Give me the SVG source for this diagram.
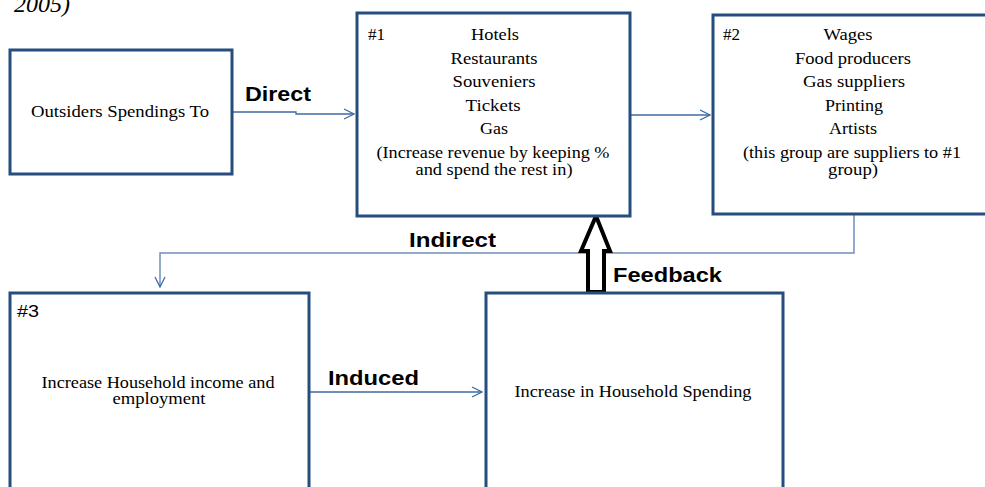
<svg xmlns="http://www.w3.org/2000/svg" width="985" height="487" viewBox="0 0 985 487">
<style>
.box{fill:#fff;stroke:#254D7E;stroke-width:3}
.t{font-family:"Liberation Serif","Times New Roman",serif;font-size:16px;fill:#000;text-anchor:middle}
.tl{font-family:"Liberation Serif","Times New Roman",serif;font-size:16px;fill:#000}
.lab{font-family:"Liberation Sans",Arial,sans-serif;font-size:20px;font-weight:bold;fill:#000}
.con{fill:none;stroke:#3F6AA3;stroke-width:1.3}
.con2{fill:none;stroke:#6F8FBD;stroke-width:1.5}
</style>
<defs>
<marker id="ah" viewBox="0 0 12 12" refX="11" refY="6" markerWidth="12" markerHeight="12" markerUnits="userSpaceOnUse" orient="auto">
<path d="M1,1 L11,6 L1,11" fill="none" stroke="#3F6AA3" stroke-width="1.3"/>
</marker>
</defs>
<text x="70" y="12" font-family="Liberation Serif,serif" font-style="italic" font-size="24" text-anchor="end">2005)</text>

<g id="connectors">
<path class="con" d="M232,112 H296 V114 H354" marker-end="url(#ah)"/>
<path class="con" d="M631,115 H710" marker-end="url(#ah)"/>
<path class="con2" d="M854,214 V253 H160 V287" marker-end="url(#ah)"/>
<path class="con" d="M310,392 H482" marker-end="url(#ah)"/>
<polygon points="596,216 610,251 604,251 604,292 588,292 588,251 581,251" fill="#fff" stroke="#000" stroke-width="4" stroke-linejoin="miter"/>
<text class="lab" x="245" y="101" textLength="66" lengthAdjust="spacingAndGlyphs">Direct</text>
<text class="lab" x="409" y="247" textLength="87" lengthAdjust="spacingAndGlyphs">Indirect</text>
<text class="lab" x="328" y="385" textLength="91" lengthAdjust="spacingAndGlyphs">Induced</text>
<text class="lab" x="613" y="282" textLength="109" lengthAdjust="spacingAndGlyphs">Feedback</text>
</g>

<g id="outsiders">
<rect class="box" x="10" y="50" width="222" height="124"/>
<text class="t" x="120" y="117" textLength="178" lengthAdjust="spacingAndGlyphs">Outsiders Spendings  To</text>
</g>

<g id="group1">
<rect class="box" x="357" y="13" width="273" height="203"/>
<text class="tl" x="368" y="40" textLength="17" lengthAdjust="spacingAndGlyphs">#1</text>
<text class="t" x="495" y="40" textLength="48" lengthAdjust="spacingAndGlyphs">Hotels</text>
<text class="t" x="494" y="64" textLength="87" lengthAdjust="spacingAndGlyphs">Restaurants</text>
<text class="t" x="494" y="87" textLength="83" lengthAdjust="spacingAndGlyphs">Souveniers</text>
<text class="t" x="493" y="111" textLength="55" lengthAdjust="spacingAndGlyphs">Tickets</text>
<text class="t" x="494" y="134" textLength="28" lengthAdjust="spacingAndGlyphs">Gas</text>
<text class="t" x="493" y="158" textLength="233" lengthAdjust="spacingAndGlyphs">(Increase revenue by keeping %</text>
<text class="t" x="494" y="175" textLength="157" lengthAdjust="spacingAndGlyphs">and spend the rest in)</text>
</g>

<g id="group2">
<rect class="box" x="713" y="15" width="290" height="199"/>
<text class="tl" x="723" y="40" textLength="17" lengthAdjust="spacingAndGlyphs">#2</text>
<text class="t" x="848" y="40" textLength="49" lengthAdjust="spacingAndGlyphs">Wages</text>
<text class="t" x="853" y="64" textLength="116" lengthAdjust="spacingAndGlyphs">Food producers</text>
<text class="t" x="854" y="87" textLength="102" lengthAdjust="spacingAndGlyphs">Gas suppliers</text>
<text class="t" x="854" y="111" textLength="58" lengthAdjust="spacingAndGlyphs">Printing</text>
<text class="t" x="853" y="134" textLength="48" lengthAdjust="spacingAndGlyphs">Artists</text>
<text class="t" x="852" y="158" textLength="218" lengthAdjust="spacingAndGlyphs">(this group are suppliers to #1</text>
<text class="t" x="853" y="175" textLength="50" lengthAdjust="spacingAndGlyphs">group)</text>
</g>

<g id="group3">
<rect class="box" x="10" y="293" width="299" height="210"/>
<text x="17" y="317" font-family="Liberation Sans,Arial,sans-serif" font-size="16" textLength="22" lengthAdjust="spacingAndGlyphs">#3</text>
<text class="t" x="158" y="388" textLength="233" lengthAdjust="spacingAndGlyphs">Increase Household income and</text>
<text class="t" x="159" y="404" textLength="93" lengthAdjust="spacingAndGlyphs">employment</text>
</g>

<g id="spending">
<rect class="box" x="486" y="293" width="297" height="210"/>
<text class="t" x="633" y="397" textLength="237" lengthAdjust="spacingAndGlyphs">Increase in Household Spending</text>
</g>
</svg>
